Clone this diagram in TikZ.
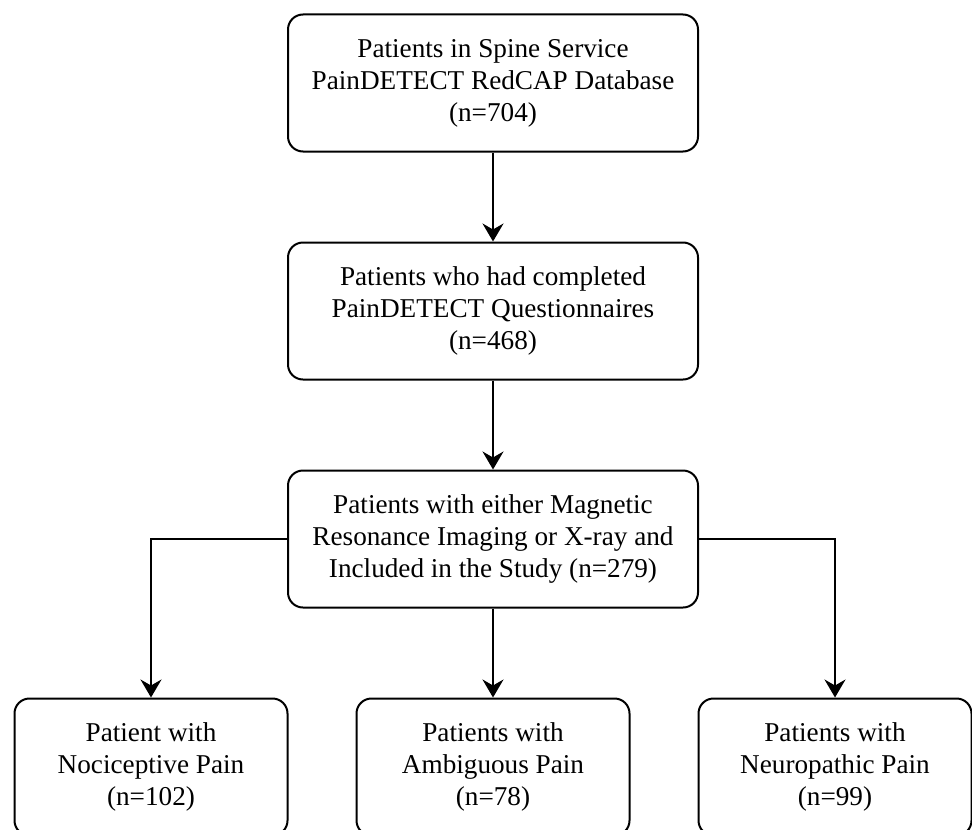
\documentclass[tikz,border=0pt]{standalone}
\usepackage{fontspec}
\setmainfont{Liberation Serif}
\usetikzlibrary{arrows.meta}

\begin{document}
\begin{tikzpicture}[x=0.5pt, y=-0.5pt, >={Stealth[length=9pt, width=10.5pt, inset=3pt]},
			line width=1pt, node distance=114pt,
			box/.style={draw, rounded corners=7.5pt, align=center, inner sep=0pt,
				minimum width=205pt, minimum height=68.5pt,
				font=\fontsize{13.6}{16}\selectfont},
			leaf/.style={box, minimum width=136.5pt}]
		\useasboundingbox (0,0) rectangle (972,829);
		\clip (0,0) rectangle (972,829);

		\node [box] at (493,83) (db) {Patients in Spine Service\\PainDETECT RedCAP Database\\(n=704)};
		\node [box, below of=db] (done) {Patients who had completed\\PainDETECT Questionnaires\\(n=468)};
		\node [box, below of=done] (incl) {Patients with either Magnetic\\Resonance Imaging or X-ray and\\Included in the Study (n=279)};
		\node [leaf, below of=incl] (ambi) {Patients with\\Ambiguous Pain\\(n=78)};
		\node [leaf, left of=ambi, node distance=171pt] (noci) {Patient with\\Nociceptive Pain\\(n=102)};
		\node [leaf, right of=ambi, node distance=171pt] (neuro) {Patients with\\Neuropathic Pain\\(n=99)};

		\draw [->] (db) -- (done);
		\draw [->] (done) -- (incl);
		\draw [->] (incl) -- (ambi);
		\draw [->] (incl.west) -| (noci.north);
		\draw [->] (incl.east) -| (neuro.north);
	\end{tikzpicture}
\end{document}
